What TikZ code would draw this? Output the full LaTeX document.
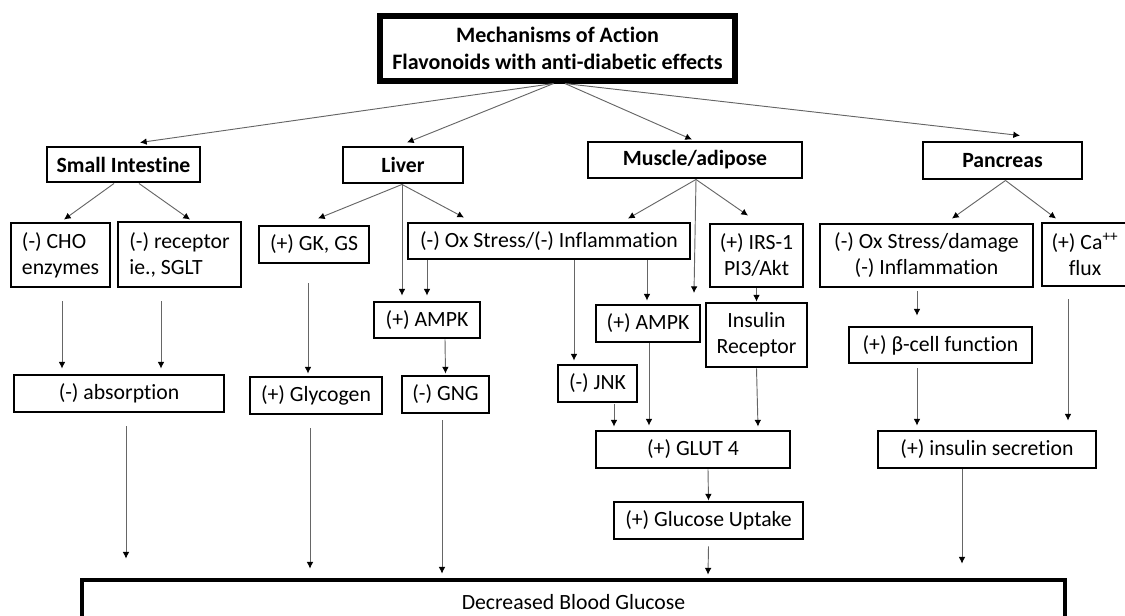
\documentclass[tikz,border=0pt]{standalone}
\usepackage{fontspec}
\setmainfont{Carlito}[Ligatures=NoCommon]
\usetikzlibrary{calc,arrows.meta}

\begin{document}
\begin{tikzpicture}[x=0.75pt,y=-0.75pt,
    font=\fontsize{16.3}{19.5}\selectfont]

      \useasboundingbox (0,0) rectangle (1125,615);

      % organ level, bold labels
      \begin{scope}[every node/.style={draw,rectangle,line width=2.2pt,inner sep=0pt,
          align=center,minimum height=27pt,font=\fontsize{16.3}{19.5}\selectfont\bfseries}]
        \node[line width=3.8pt,minimum width=266.25pt,minimum height=48.75pt,
          font=\fontsize{16.5}{20.5}\selectfont\bfseries] (top) at (557.5,48.5)
          {Mechanisms of Action\\Flavonoids with anti-diabetic effects};
        \node[minimum width=114.75pt,minimum height=26.25pt] (si)     at (123.5,164.5) {Small Intestine};
        \node[minimum width=90pt]                            (liver)  at (403,165)     {Liver};
        \node[minimum width=160.5pt]                         (muscle) at (695,160)     {Muscle/adipose};
        \node[minimum width=119.25pt,minimum height=27.75pt] (panc)   at (1002.5,160.5) {Pancreas};
      \end{scope}

      % effects
      \begin{scope}[every node/.style={draw,rectangle,line width=2.2pt,inner sep=0pt,
          align=center,minimum height=27.75pt}]
        \node[align=left,minimum width=74.25pt,minimum height=48pt]    (cho)   at (60.5,255)    {(-) CHO\\enzymes};
        \node[align=left,minimum width=92.25pt,minimum height=48.75pt] (rec)   at (179.5,254.5) {(-) receptor\\ie., SGLT};
        \node[minimum width=82.5pt]                  (gk)    at (314,244.5)   {(+) GK, GS};
        \node[minimum width=211.5pt,minimum height=27pt] (ox) at (549,241)    {(-) Ox Stress/(-) Inflammation};
        \node[minimum width=69.75pt,minimum height=47.25pt]  (irs)   at (756.5,255.5) {(+) IRS-1\\PI3/Akt};
        \node[minimum width=159.75pt,minimum height=47.25pt] (oxd)   at (926.5,255.5) {(-) Ox Stress/damage\\(-) Inflammation};
        \node[minimum width=64.5pt,minimum height=47.25pt]   (ca)    at (1085,254.5)  {(+) Ca\textsuperscript{++}\\flux};
        \node[minimum width=79.5pt,minimum height=27pt]  (ampkl) at (427,320)     {(+) AMPK};
        \node[minimum width=78pt]                    (ampkm) at (648,323.5)   {(+) AMPK};
        \node[minimum width=75.75pt,minimum height=48pt] (insr)  at (756.5,335)   {Insulin\\Receptor};
        \node[minimum width=137.25pt,minimum height=27pt] (beta) at (940.5,345)   {(+) β-cell function};
        \node[minimum width=157.5pt]                 (abs)   at (119,393.5)   {(-) absorption};
        \node[minimum width=99pt]                    (glyc)  at (316,395.5)   {(+) Glycogen};
        \node[minimum width=65.25pt]                 (gng)   at (445.5,394.5) {(-) GNG};
        \node[minimum width=59.25pt]                 (jnk)   at (597.5,383.5) {(-) JNK};
        \node[minimum width=145.5pt]                 (glut)  at (693,449.5)   {(+) GLUT 4};
        \node[minimum width=163.5pt]                 (ins)   at (987,449.5)   {(+) insulin secretion};
        \node[minimum width=141.75pt]                (upt)   at (708.5,520.5) {(+) Glucose Uptake};
        \node[line width=3.6pt,minimum width=737.25pt,minimum height=33pt] (dec) at (573.5,602)
          {Decreased Blood Glucose};
      \end{scope}

      \coordinate (mfree) at (694,293);

      \begin{scope}[every edge/.style={draw,draw=black!60,line width=0.7pt,
          -{Latex[length=5pt,width=5pt,color=black]}}]
        % from the top box
        \path ($(top.south)+(-4,0)$)   edge ($(si.north)+(16.5,-3)$);
        \path ($(top.south)+(-4,0)$)   edge ($(liver.north)+(4,-3)$);
        \path ($(top.south)+(7.5,0)$)  edge ($(muscle.north)+(-3,-1)$);
        \path ($(top.south)+(7.5,0)$)  edge ($(panc.north)+(17.5,-5)$);
        % small intestine
        \path ($(si.south)+(-9.5,0)$)  edge ($(cho.north)+(3.5,-2)$);
        \path ($(si.south)+(15.5,0)$)  edge ($(rec.north)+(10.5,-1)$);
        \path ($(cho.south)+(1.5,13)$) edge ($(abs.north)+(-57,-5)$);
        \path ($(rec.south)+(-18.5,13)$) edge ($(abs.north)+(42,-5)$);
        \path ($(abs.south)+(7,13)$)   edge ($(dec.north)+(-447.5,-19)$);
        % liver
        \path ($(liver.south)+(-1,0)$) edge ($(gk.north)+(4,-6)$);
        \path ($(liver.south)+(-1,0)$) edge ($(ox.north)+(-85,-4)$);
        \path ($(liver.south)+(-1,0)$) edge ($(ampkl.north)+(-25,-5)$);
        \path ($(ox.south)+(-122,0)$)  edge ($(ampkl.north)+(0,-5)$);
        \path ($(gk.south)+(-6,19)$)   edge ($(glyc.north)+(-8,-2)$);
        \path ($(ampkl.south)+(18,0)$) edge ($(gng.north)+(0,-1)$);
        \path ($(glyc.south)+(-6,13)$) edge ($(dec.north)+(-263.5,-9)$);
        \path ($(gng.south)+(-3.5,6)$) edge ($(dec.north)+(-131.5,-4)$);
        % muscle / adipose
        \path ($(muscle.south)+(1,0)$) edge ($(ox.north)+(79,-3)$);
        \path ($(muscle.south)+(1,0)$) edge (mfree);
        \path ($(muscle.south)+(1,0)$) edge ($(irs.north)+(-8.5,-7)$);
        \path ($(ox.south)+(25,0)$)    edge ($(jnk.north)+(-23.5,-3)$);
        \path ($(ox.south)+(98,0)$)    edge ($(ampkm.north)+(-1,-3)$);
        \path (irs.south)              edge (insr.north);
        \path ($(jnk.south)+(16.5,1)$) edge ($(glut.north)+(-79,-3)$);
        \path ($(ampkm.south)+(1,0)$)  edge ($(glut.north)+(-44,-4)$);
        \path (insr.south)             edge ($(glut.north)+(65,-3)$);
        \path ($(glut.south)+(15,0)$)  edge (upt.north);
        \path ($(upt.south)+(0,6)$)    edge ($(dec.north)+(134.5,-3)$);
        % pancreas
        \path ($(panc.south)+(3,0)$)   edge ($(oxd.north)+(25.5,-4)$);
        \path ($(panc.south)+(3,0)$)   edge ($(ca.north)+(-29,-3)$);
        \path ($(oxd.south)+(-9.5,3)$) edge ($(beta.north)+(-23.5,-10)$);
        \path ($(ca.south)+(-17,12)$)  edge ($(ins.north)+(81,-9)$);
        \path ($(beta.south)+(-23.5,4)$) edge ($(ins.north)+(-70,-4)$);
        \path ($(ins.south)+(-25,0)$)  edge ($(dec.north)+(388.5,-14)$);
      \end{scope}

    \end{tikzpicture}
\end{document}
